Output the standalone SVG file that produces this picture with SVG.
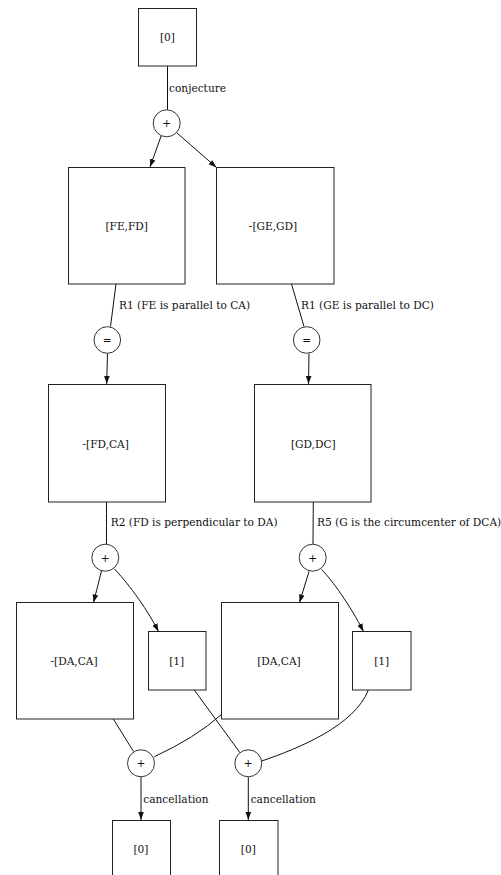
<svg xmlns="http://www.w3.org/2000/svg" width="501" height="875" viewBox="0 0 501 875">
<style>
  .box{fill:#fff;stroke:#222;stroke-width:1}
  .op{fill:#fff;stroke:#333;stroke-width:1}
  .e{fill:none;stroke:#111;stroke-width:1}
  text{font-family:"DejaVu Serif","Liberation Serif",serif;font-size:10.6px;fill:#111}
  .c{text-anchor:middle}
</style>
<defs>
  <marker id="ah" viewBox="0 0 10 10" refX="10" refY="5" markerWidth="8" markerHeight="8" markerUnits="userSpaceOnUse" orient="auto">
    <path d="M0,1.5 L10,5 L0,8.5 Z" fill="#111"/>
  </marker>
</defs>
<rect width="501" height="875" fill="#fff"/>
<g id="connectors">
  <line class="e" x1="167.5" y1="66" x2="167.5" y2="110"/>
  <line class="e" x1="161.5" y1="135" x2="150" y2="167" marker-end="url(#ah)"/>
  <line class="e" x1="177" y1="133" x2="216.5" y2="167.5" marker-end="url(#ah)"/>
  <line class="e" x1="116" y1="284" x2="110.5" y2="326.5"/>
  <line class="e" x1="107.5" y1="353.5" x2="106.7" y2="384" marker-end="url(#ah)"/>
  <line class="e" x1="291.5" y1="284" x2="304" y2="326.5"/>
  <line class="e" x1="309" y1="353.5" x2="308.5" y2="384" marker-end="url(#ah)"/>
  <line class="e" x1="106.5" y1="502" x2="106.5" y2="544"/>
  <line class="e" x1="101.5" y1="571" x2="93.5" y2="602.5" marker-end="url(#ah)"/>
  <path class="e" d="M114.5,569 C125,580 145,605 158.5,631.5" marker-end="url(#ah)"/>
  <line class="e" x1="313.3" y1="502" x2="313" y2="544"/>
  <line class="e" x1="309" y1="571.5" x2="299.5" y2="602.5" marker-end="url(#ah)"/>
  <path class="e" d="M321.5,569.5 C332,580 350,605 363.5,631.5" marker-end="url(#ah)"/>
  <line class="e" x1="113.3" y1="719" x2="133.5" y2="751.5"/>
  <path class="e" d="M221.7,714.3 Q195,738 154.3,756.7"/>
  <line class="e" x1="194.3" y1="690" x2="240" y2="752.7"/>
  <path class="e" d="M368.3,690 C355,725 300,748 261.7,761"/>
  <line class="e" x1="141" y1="777" x2="141" y2="820" marker-end="url(#ah)"/>
  <line class="e" x1="248.3" y1="777" x2="248.3" y2="820" marker-end="url(#ah)"/>
  <text x="169" y="91.5">conjecture</text>
  <text x="119" y="309">R1 (FE is parallel to CA)</text>
  <text x="301" y="309">R1 (GE is parallel to DC)</text>
  <text x="110.7" y="526">R2 (FD is perpendicular to DA)</text>
  <text x="317" y="526">R5 (G is the circumcenter of DCA)</text>
  <text x="143.3" y="802.5">cancellation</text>
  <text x="250.7" y="802.5">cancellation</text>
</g>
<g id="n0"><rect class="box" x="138.5" y="8.5" width="58" height="57.5"/><text class="c" x="167.5" y="40.5">[0]</text></g>
<g id="p1"><circle class="op" cx="166.7" cy="123.3" r="13.5"/><text class="c" x="166.7" y="127">+</text></g>
<g id="n1"><rect class="box" x="68.5" y="167.5" width="116.5" height="116.5"/><text class="c" x="126.7" y="229.5">[FE,FD]</text></g>
<g id="n2"><rect class="box" x="216.5" y="167.5" width="117.5" height="116.5"/><text class="c" x="273" y="229.5">-[GE,GD]</text></g>
<g id="q1"><circle class="op" cx="107.3" cy="340" r="13.3"/><text class="c" x="107.3" y="343.5">=</text></g>
<g id="q2"><circle class="op" cx="306.7" cy="340" r="13.3"/><text class="c" x="306.7" y="343.5">=</text></g>
<g id="n3"><rect class="box" x="48.5" y="384.5" width="117" height="117.5"/><text class="c" x="105.7" y="447.5">-[FD,CA]</text></g>
<g id="n4"><rect class="box" x="254.5" y="384.5" width="116.5" height="117.5"/><text class="c" x="313.3" y="447.5">[GD,DC]</text></g>
<g id="p2"><circle class="op" cx="105.3" cy="557.7" r="13.5"/><text class="c" x="105.3" y="561.5">+</text></g>
<g id="p3"><circle class="op" cx="312.7" cy="557.7" r="13.5"/><text class="c" x="312.7" y="561.5">+</text></g>
<g id="n5"><rect class="box" x="16.5" y="602.5" width="117" height="116.5"/><text class="c" x="74" y="665">-[DA,CA]</text></g>
<g id="n6"><rect class="box" x="148.5" y="631.5" width="57.5" height="58.5"/><text class="c" x="176.7" y="665">[1]</text></g>
<g id="n7"><rect class="box" x="221.5" y="602.5" width="117" height="116.5"/><text class="c" x="279" y="665">[DA,CA]</text></g>
<g id="n8"><rect class="box" x="352.5" y="631.5" width="58.5" height="58.5"/><text class="c" x="381.7" y="665">[1]</text></g>
<g id="p4"><circle class="op" cx="141" cy="763.3" r="13.5"/><text class="c" x="141" y="767">+</text></g>
<g id="p5"><circle class="op" cx="248.3" cy="763.3" r="13.5"/><text class="c" x="248.3" y="767">+</text></g>
<g id="n9"><rect class="box" x="112.5" y="820.5" width="58" height="70"/><text class="c" x="141" y="852.8">[0]</text></g>
<g id="n10"><rect class="box" x="219.5" y="820.5" width="58.5" height="70"/><text class="c" x="248.3" y="852.8">[0]</text></g>
</svg>
